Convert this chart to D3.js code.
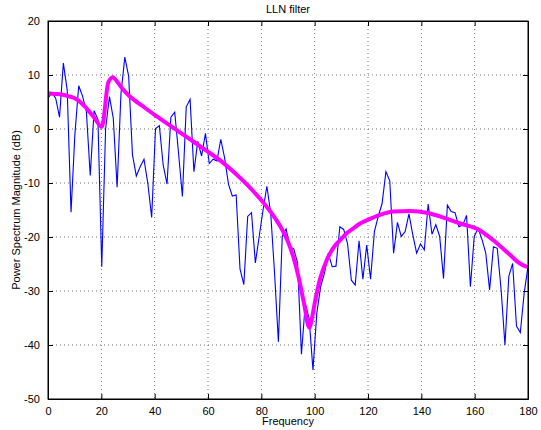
<!DOCTYPE html>
<html>
<head>
<meta charset="utf-8">
<script src="https://cdn.jsdelivr.net/npm/d3@7"></script>
<style>
  body { margin: 0; background: #fff; }
  text { font-family: "Liberation Sans", Arial, Helvetica, sans-serif; }
</style>
</head>
<body>
<svg id="chart" width="541" height="430"></svg>
<script>
// periodogram (blue), one value per frequency bin from 0 to 180
const spectrumDb = [
  5.7, 6.7, 5.7, 2.2, 12.2, 7.2, -15.4, -1.0, 8.0, 6.1,
  3.2, -8.6, 3.4, 1.8, -25.5, 0.0, 6.0, 2.0, -10.8, 6.5,
  13.3, 9.8, -4.8, -8.7, -7.0, -5.6, -10.1, -16.4, 0.1, 0.6,
  -6.7, -10.2, 2.2, 3.1, -4.5, -12.5, 4.1, 5.5, -7.9, -2.3,
  -5.0, -0.8, -6.4, -5.6, -5.9, -1.9, -5.4, -10.2, -12.4, -12.2,
  -25.9, -28.8, -16.2, -15.5, -24.8, -19.9, -15.0, -10.6, -15.6, -26.7,
  -39.4, -19.9, -18.5, -21.8, -22.2, -24.8, -41.7, -32.3, -35.1, -44.6,
  -34.1, -29.2, -26.7, -23.0, -25.5, -25.4, -18.1, -18.6, -21.2, -28.0,
  -28.9, -20.7, -27.8, -21.5, -27.8, -19.0, -16.2, -13.8, -7.9, -9.6,
  -23.0, -17.3, -19.9, -19.0, -15.7, -19.6, -23.0, -21.3, -22.4, -13.9,
  -19.5, -17.7, -19.9, -27.7, -14.1, -15.3, -15.5, -18.1, -17.8, -16.0,
  -29.2, -19.9, -18.4, -20.4, -23.0, -29.8, -21.8, -22.1, -29.8, -40.0,
  -27.3, -24.9, -36.5, -37.7, -30.4, -25.5
];

// LLN filter response (magenta)
const filterFreq = [0, 2.5, 5, 7.5, 10, 12.5, 15, 17.5, 20.2, 22.6, 24.3, 26, 28, 30.5, 32.5, 35,
  40, 45, 50, 55, 60, 65, 70, 75, 80, 85, 88, 90, 92, 94, 96, 98, 99, 100,
  102, 104.5, 107, 109.5, 112, 114.5, 117, 120, 124.5, 129.5, 135.75, 142, 148.25,
  154.5, 161.4, 167, 173, 177, 180];
const filterDb = [6.6, 6.5, 6.4, 6.1, 5.7, 4.8, 3.5, 2.0, 0.4, 8.6, 9.6, 8.7, 7.4, 6.1, 5.3, 4.4,
  2.6, 0.9, -0.8, -2.5, -4.2, -6.0, -8.1, -10.5, -13.2, -16.4, -18.8, -20.9, -23.7, -27.5, -32.3, -36.8, -35.0, -32.3,
  -27.8, -24.3, -22.0, -20.6, -19.3, -18.4, -17.5, -16.8, -15.9, -15.3, -15.2, -15.5, -16.4,
  -17.5, -18.6, -20.6, -23.2, -24.9, -25.6];

const xTicks = [0, 20, 40, 60, 80, 100, 120, 140, 160, 180];
const yTicks = [-50, -40, -30, -20, -10, 0, 10, 20];

let svg = d3.select("#chart");
let margin = { left: 48, top: 21, right: 13, bottom: 31 };
let width = 541 - margin.left - margin.right;
let height = 430 - margin.top - margin.bottom;

let xScale = d3.scaleLinear().domain([0, 180]).range([0, width]);
let yScale = d3.scaleLinear().domain([-50, 20]).range([height, 0]);

let plot = svg.append("g")
    .attr("transform", `translate(${margin.left}, ${margin.top})`);

// dotted grid
plot.append("g")
    .selectAll("line")
    .data(xTicks.slice(1, -1))
    .join("line")
    .attr("x1", d => xScale(d)).attr("x2", d => xScale(d))
    .attr("y1", 0).attr("y2", height)
    .style("stroke", "#000")
    .style("stroke-opacity", 0.55)
    .style("stroke-dasharray", "1,3");
plot.append("g")
    .selectAll("line")
    .data(yTicks.slice(1, -1))
    .join("line")
    .attr("x1", 0).attr("x2", width)
    .attr("y1", d => yScale(d)).attr("y2", d => yScale(d))
    .style("stroke", "#000")
    .style("stroke-opacity", 0.55)
    .style("stroke-dasharray", "1,3");

let freqs = spectrumDb.map((d, i) => i * 180 / (spectrumDb.length - 1));

plot.append("path")
    .datum(spectrumDb)
    .attr("fill", "none")
    .attr("stroke", "#0000ff")
    .attr("stroke-width", 1.1)
    .attr("stroke-linejoin", "miter")
    .attr("d", d3.line()
        .x((d, i) => xScale(freqs[i]))
        .y(d => yScale(d)));

plot.append("path")
    .datum(filterDb)
    .attr("fill", "none")
    .attr("stroke", "#ff00ff")
    .attr("stroke-width", 4)
    .attr("stroke-linejoin", "round")
    .attr("d", d3.line()
        .curve(d3.curveMonotoneX)
        .x((d, i) => xScale(filterFreq[i]))
        .y(d => yScale(d)));

// axes, MATLAB style: ticks inside on all four sides, plain hyphen minus
let tickLen = 5;
let fmt = d => String(d);
plot.append("g")
    .attr("class", "x-axis")
    .attr("transform", `translate(0, ${height})`)
    .call(d3.axisBottom(xScale).tickValues(xTicks).tickSizeInner(-tickLen).tickSizeOuter(0).tickPadding(8).tickFormat(fmt));
plot.append("g")
    .call(d3.axisTop(xScale).tickValues(xTicks).tickSizeInner(-tickLen).tickSizeOuter(0).tickFormat(""));
plot.append("g")
    .attr("class", "y-axis")
    .call(d3.axisLeft(yScale).tickValues(yTicks).tickSizeInner(-tickLen).tickSizeOuter(0).tickPadding(8).tickFormat(fmt));
plot.append("g")
    .attr("transform", `translate(${width}, 0)`)
    .call(d3.axisRight(yScale).tickValues(yTicks).tickSizeInner(-tickLen).tickSizeOuter(0).tickFormat(""));

plot.selectAll(".domain").style("stroke", "#000").style("stroke-width", 1);
plot.selectAll(".tick line").style("stroke", "#000");
plot.selectAll(".tick text")
    .style("font-size", "11px")
    .style("fill", "#000")
    .style("font-family", "'Liberation Sans', Arial, sans-serif");

plot.append("rect")
    .attr("x", 0).attr("y", 0)
    .attr("width", width).attr("height", height)
    .style("fill", "none")
    .style("stroke", "#000")
    .style("stroke-width", 1);

// labels
svg.append("text")
    .attr("x", margin.left + width / 2)
    .attr("y", 13)
    .attr("text-anchor", "middle")
    .style("font-size", "11px")
    .text("LLN filter");

svg.append("text")
    .attr("x", margin.left + width / 2)
    .attr("y", 425)
    .attr("text-anchor", "middle")
    .style("font-size", "11px")
    .text("Frequency");

svg.append("text")
    .attr("transform", `translate(20, ${margin.top + height / 2}) rotate(-90)`)
    .attr("text-anchor", "middle")
    .style("font-size", "11px")
    .text("Power Spectrum Magnitude (dB)");
</script>
</body>
</html>
